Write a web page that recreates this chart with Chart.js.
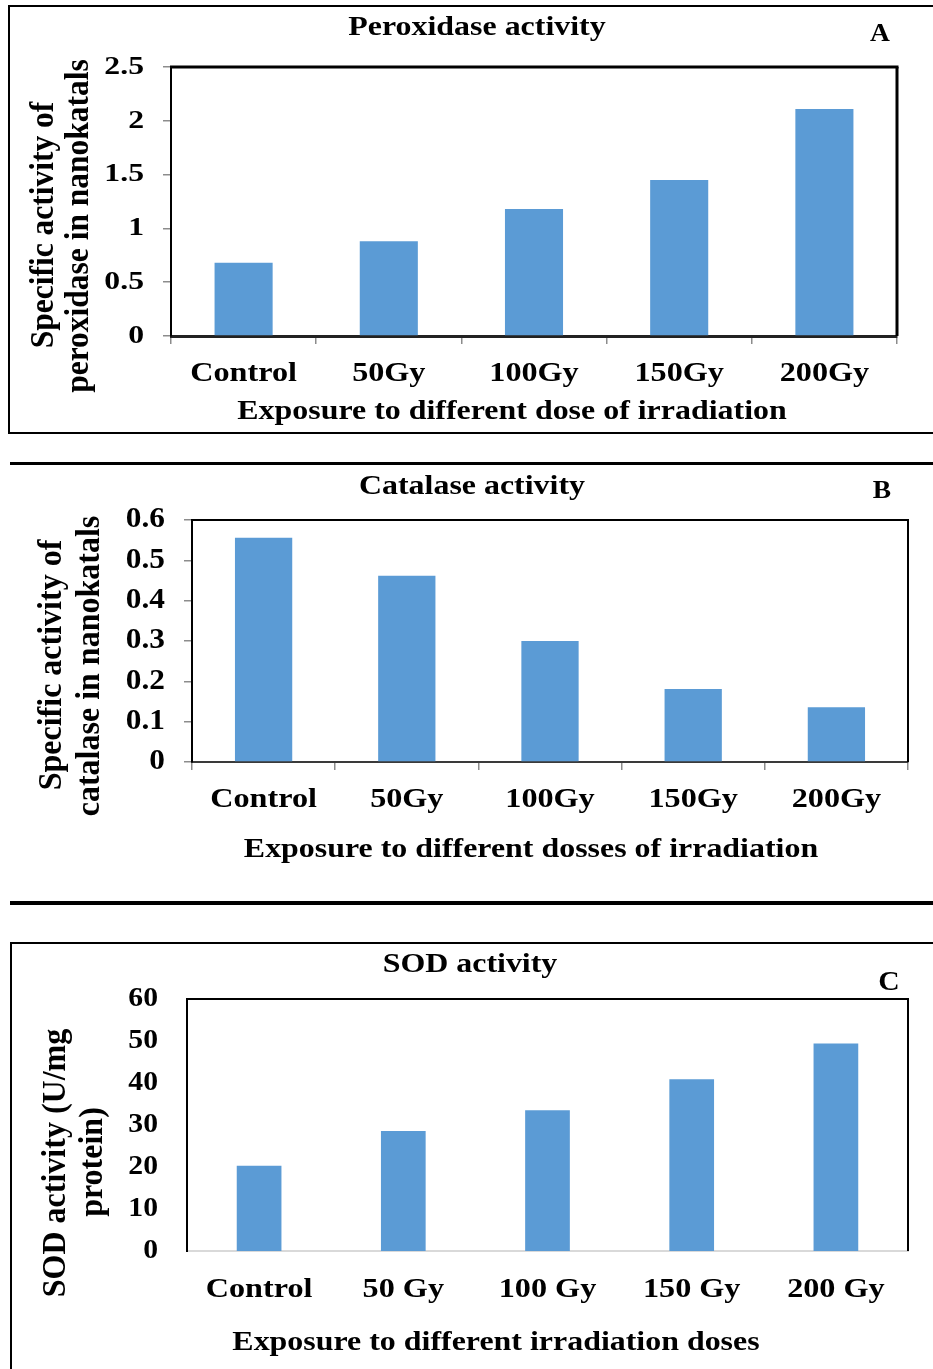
<!DOCTYPE html>
<html><head><meta charset="utf-8">
<script src="https://cdn.jsdelivr.net/npm/chart.js@4.4.0/dist/chart.umd.min.js"></script>
<style>
html,body{margin:0;padding:0;background:#fff;}
body{width:933px;height:1369px;position:relative;overflow:hidden;}
canvas{position:absolute;left:0;}
.ln{position:absolute;background:#000;}
</style></head><body>
<div class="ln" style="left:8px;top:5px;width:925px;height:2px"></div>
<div class="ln" style="left:8px;top:5px;width:2px;height:429px"></div>
<div class="ln" style="left:8px;top:432px;width:925px;height:2px"></div>
<div class="ln" style="left:10px;top:462px;width:923px;height:3px"></div>
<div class="ln" style="left:10px;top:901px;width:923px;height:4px"></div>
<div class="ln" style="left:10px;top:942px;width:923px;height:2px"></div>
<div class="ln" style="left:10px;top:942px;width:2px;height:427px"></div>
<canvas id="cA" width="933" height="440" style="top:0px"></canvas>
<canvas id="cB" width="933" height="463" style="top:440px"></canvas>
<canvas id="cC" width="933" height="466" style="top:903px"></canvas>
<script>
// ---------- data ----------
const categoriesA = ['Control', '50Gy', '100Gy', '150Gy', '200Gy'];
const peroxidase = [0.68, 0.88, 1.18, 1.45, 2.11];
const peroxidaseTicks = [0, 0.5, 1, 1.5, 2, 2.5];

const categoriesB = ['Control', '50Gy', '100Gy', '150Gy', '200Gy'];
const catalase = [0.556, 0.462, 0.30, 0.181, 0.136];
const catalaseTicks = [0, 0.1, 0.2, 0.3, 0.4, 0.5, 0.6];

const categoriesC = ['Control', '50 Gy', '100 Gy', '150 Gy', '200 Gy'];
const sod = [20.3, 28.6, 33.5, 40.9, 49.4];
const sodTicks = [0, 10, 20, 30, 40, 50, 60];

// ---------- styling ----------
const FONT = '"Liberation Serif", "Times New Roman", serif';
const BAR = '#5B9BD5';
Chart.defaults.color = '#000';
Chart.defaults.font.family = FONT;

function drawText(ctx, text, x, y, size, sx, align, rot) {
  ctx.save();
  ctx.fillStyle = '#000';
  ctx.font = `bold ${size}px ${FONT}`;
  ctx.textAlign = align || 'center';
  ctx.textBaseline = 'middle';
  ctx.translate(x, y);
  ctx.scale(sx || 1, 1);
  if (rot) ctx.rotate(-Math.PI / 2);
  ctx.fillText(text, 0, 0);
  ctx.restore();
}

// titles + tick labels (tick positions come from the chart's own scales)
const textPlugin = {
  id: 'texts',
  afterDraw(chart, args, o) {
    const ctx = chart.ctx;
    const xs = chart.scales.x, ys = chart.scales.y;
    xs.ticks.forEach((t, i) => {
      drawText(ctx, String(t.label), xs.getPixelForTick(i), chart.chartArea.bottom + o.xLabelOffset,
               o.xLabelSize, o.xLabelSx, 'center');
    });
    ys.ticks.forEach((t, i) => {
      drawText(ctx, String(t.label), o.yLabelRight, ys.getPixelForTick(i),
               o.yLabelSize, o.yLabelSx, 'right');
    });
    for (const t of o.items) drawText(ctx, t.text, t.x, t.y, t.size, t.sx, 'center', t.rot);
  }
};

const framePlugin = {
  id: 'frame',
  afterDraw(chart, args, o) {
    const { left, right, top, bottom } = chart.chartArea;
    const ctx = chart.ctx;
    ctx.save();
    ctx.strokeStyle = '#000';
    ctx.lineWidth = o.top;
    ctx.beginPath(); ctx.moveTo(left - 1, top); ctx.lineTo(right + o.right / 2, top); ctx.stroke();
    ctx.lineWidth = o.right;
    ctx.beginPath(); ctx.moveTo(right, top); ctx.lineTo(right, bottom); ctx.stroke();
    ctx.restore();
  }
};

function makeChart(id, spec) {
  const H = document.getElementById(id).height;
  return new Chart(document.getElementById(id), {
    type: 'bar',
    data: {
      labels: spec.labels,
      datasets: [{ data: spec.values, backgroundColor: BAR, borderWidth: 0,
        barPercentage: spec.barPct, categoryPercentage: 1 }]
    },
    plugins: [textPlugin, framePlugin],
    options: {
      responsive: false,
      animation: false,
      events: [],
      layout: { padding: { left: 0, top: spec.T, right: 933 - spec.R, bottom: 0 } },
      plugins: {
        legend: { display: false },
        tooltip: { enabled: false },
        title: { display: false },
        texts: spec.text,
        frame: { top: spec.frameTop, right: spec.frameRight }
      },
      scales: {
        x: {
          afterFit: s => { s.height = H - spec.B; },
          grid: spec.xGrid,
          border: spec.xBorder,
          ticks: { display: false, autoSkip: false, maxRotation: 0, minRotation: 0 }
        },
        y: {
          min: spec.ticks[0],
          max: spec.ticks[spec.ticks.length - 1],
          afterFit: s => { s.width = spec.L; },
          afterBuildTicks: s => { s.ticks = spec.ticks.map(v => ({ value: v })); },
          grid: spec.yGrid,
          border: { display: true, color: '#000', width: 2 },
          ticks: { display: false, callback: v => String(v) }
        }
      }
    }
  });
}

const tickGrid = { display: true, drawOnChartArea: false, drawTicks: true, tickLength: 8, color: '#8c8c8c', lineWidth: 1.5 };

makeChart('cA', {
  labels: categoriesA, values: peroxidase, ticks: peroxidaseTicks,
  L: 171, R: 897, T: 67, B: 336, barPct: 0.4,
  xGrid: tickGrid,
  xBorder: { display: true, color: '#222', width: 3 },
  yGrid: tickGrid,
  frameTop: 3, frameRight: 3,
  text: {
    xLabelOffset: 38, xLabelSize: 28, xLabelSx: 1.15,
    yLabelRight: 144, yLabelSize: 26, yLabelSx: 1.22,
    items: [
      { text: 'Peroxidase activity', x: 477, y: 28, size: 28, sx: 1.14 },
      { text: 'A', x: 880, y: 35, size: 25, sx: 1.1 },
      { text: 'Exposure to different dose of irradiation', x: 512, y: 412, size: 28, sx: 1.14 },
      { text: 'Specific activity of', x: 45, y: 225, size: 31.5, sx: 1.04, rot: true },
      { text: 'peroxidase in nanokatals', x: 80, y: 226, size: 31.5, sx: 1.04, rot: true }
    ]
  }
});

makeChart('cB', {
  labels: categoriesB, values: catalase, ticks: catalaseTicks,
  L: 192, R: 908, T: 80, B: 322, barPct: 0.4,
  xGrid: tickGrid,
  xBorder: { display: true, color: '#3a3a3a', width: 2 },
  yGrid: tickGrid,
  frameTop: 2, frameRight: 2,
  text: {
    xLabelOffset: 38, xLabelSize: 28, xLabelSx: 1.15,
    yLabelRight: 165, yLabelSize: 29, yLabelSx: 1.08,
    items: [
      { text: 'Catalase activity', x: 472, y: 47, size: 28, sx: 1.14 },
      { text: 'B', x: 882, y: 52, size: 25, sx: 1.1 },
      { text: 'Exposure to different dosses of irradiation', x: 531, y: 410, size: 28, sx: 1.14 },
      { text: 'Specific activity of', x: 52, y: 225, size: 32, sx: 1.04, rot: true },
      { text: 'catalase in nanokatals', x: 90, y: 226, size: 32, sx: 1.04, rot: true }
    ]
  }
});

makeChart('cC', {
  labels: categoriesC, values: sod, ticks: sodTicks,
  L: 187, R: 908, T: 96, B: 348, barPct: 0.31,
  xGrid: { display: false, drawTicks: false },
  xBorder: { display: true, color: '#d9d9d9', width: 2 },
  yGrid: { display: false, drawTicks: false },
  frameTop: 2, frameRight: 2,
  text: {
    xLabelOffset: 39, xLabelSize: 28, xLabelSx: 1.15,
    yLabelRight: 158, yLabelSize: 27, yLabelSx: 1.1,
    items: [
      { text: 'SOD activity', x: 470, y: 62, size: 28, sx: 1.14 },
      { text: 'C', x: 889, y: 80, size: 27, sx: 1.1 },
      { text: 'Exposure to different irradiation doses', x: 496, y: 440, size: 28, sx: 1.14 },
      { text: 'SOD activity (U/mg', x: 56, y: 260, size: 32, sx: 1.04, rot: true },
      { text: 'protein)', x: 93, y: 259, size: 32, sx: 1.04, rot: true }
    ]
  }
});
</script>
</body></html>
